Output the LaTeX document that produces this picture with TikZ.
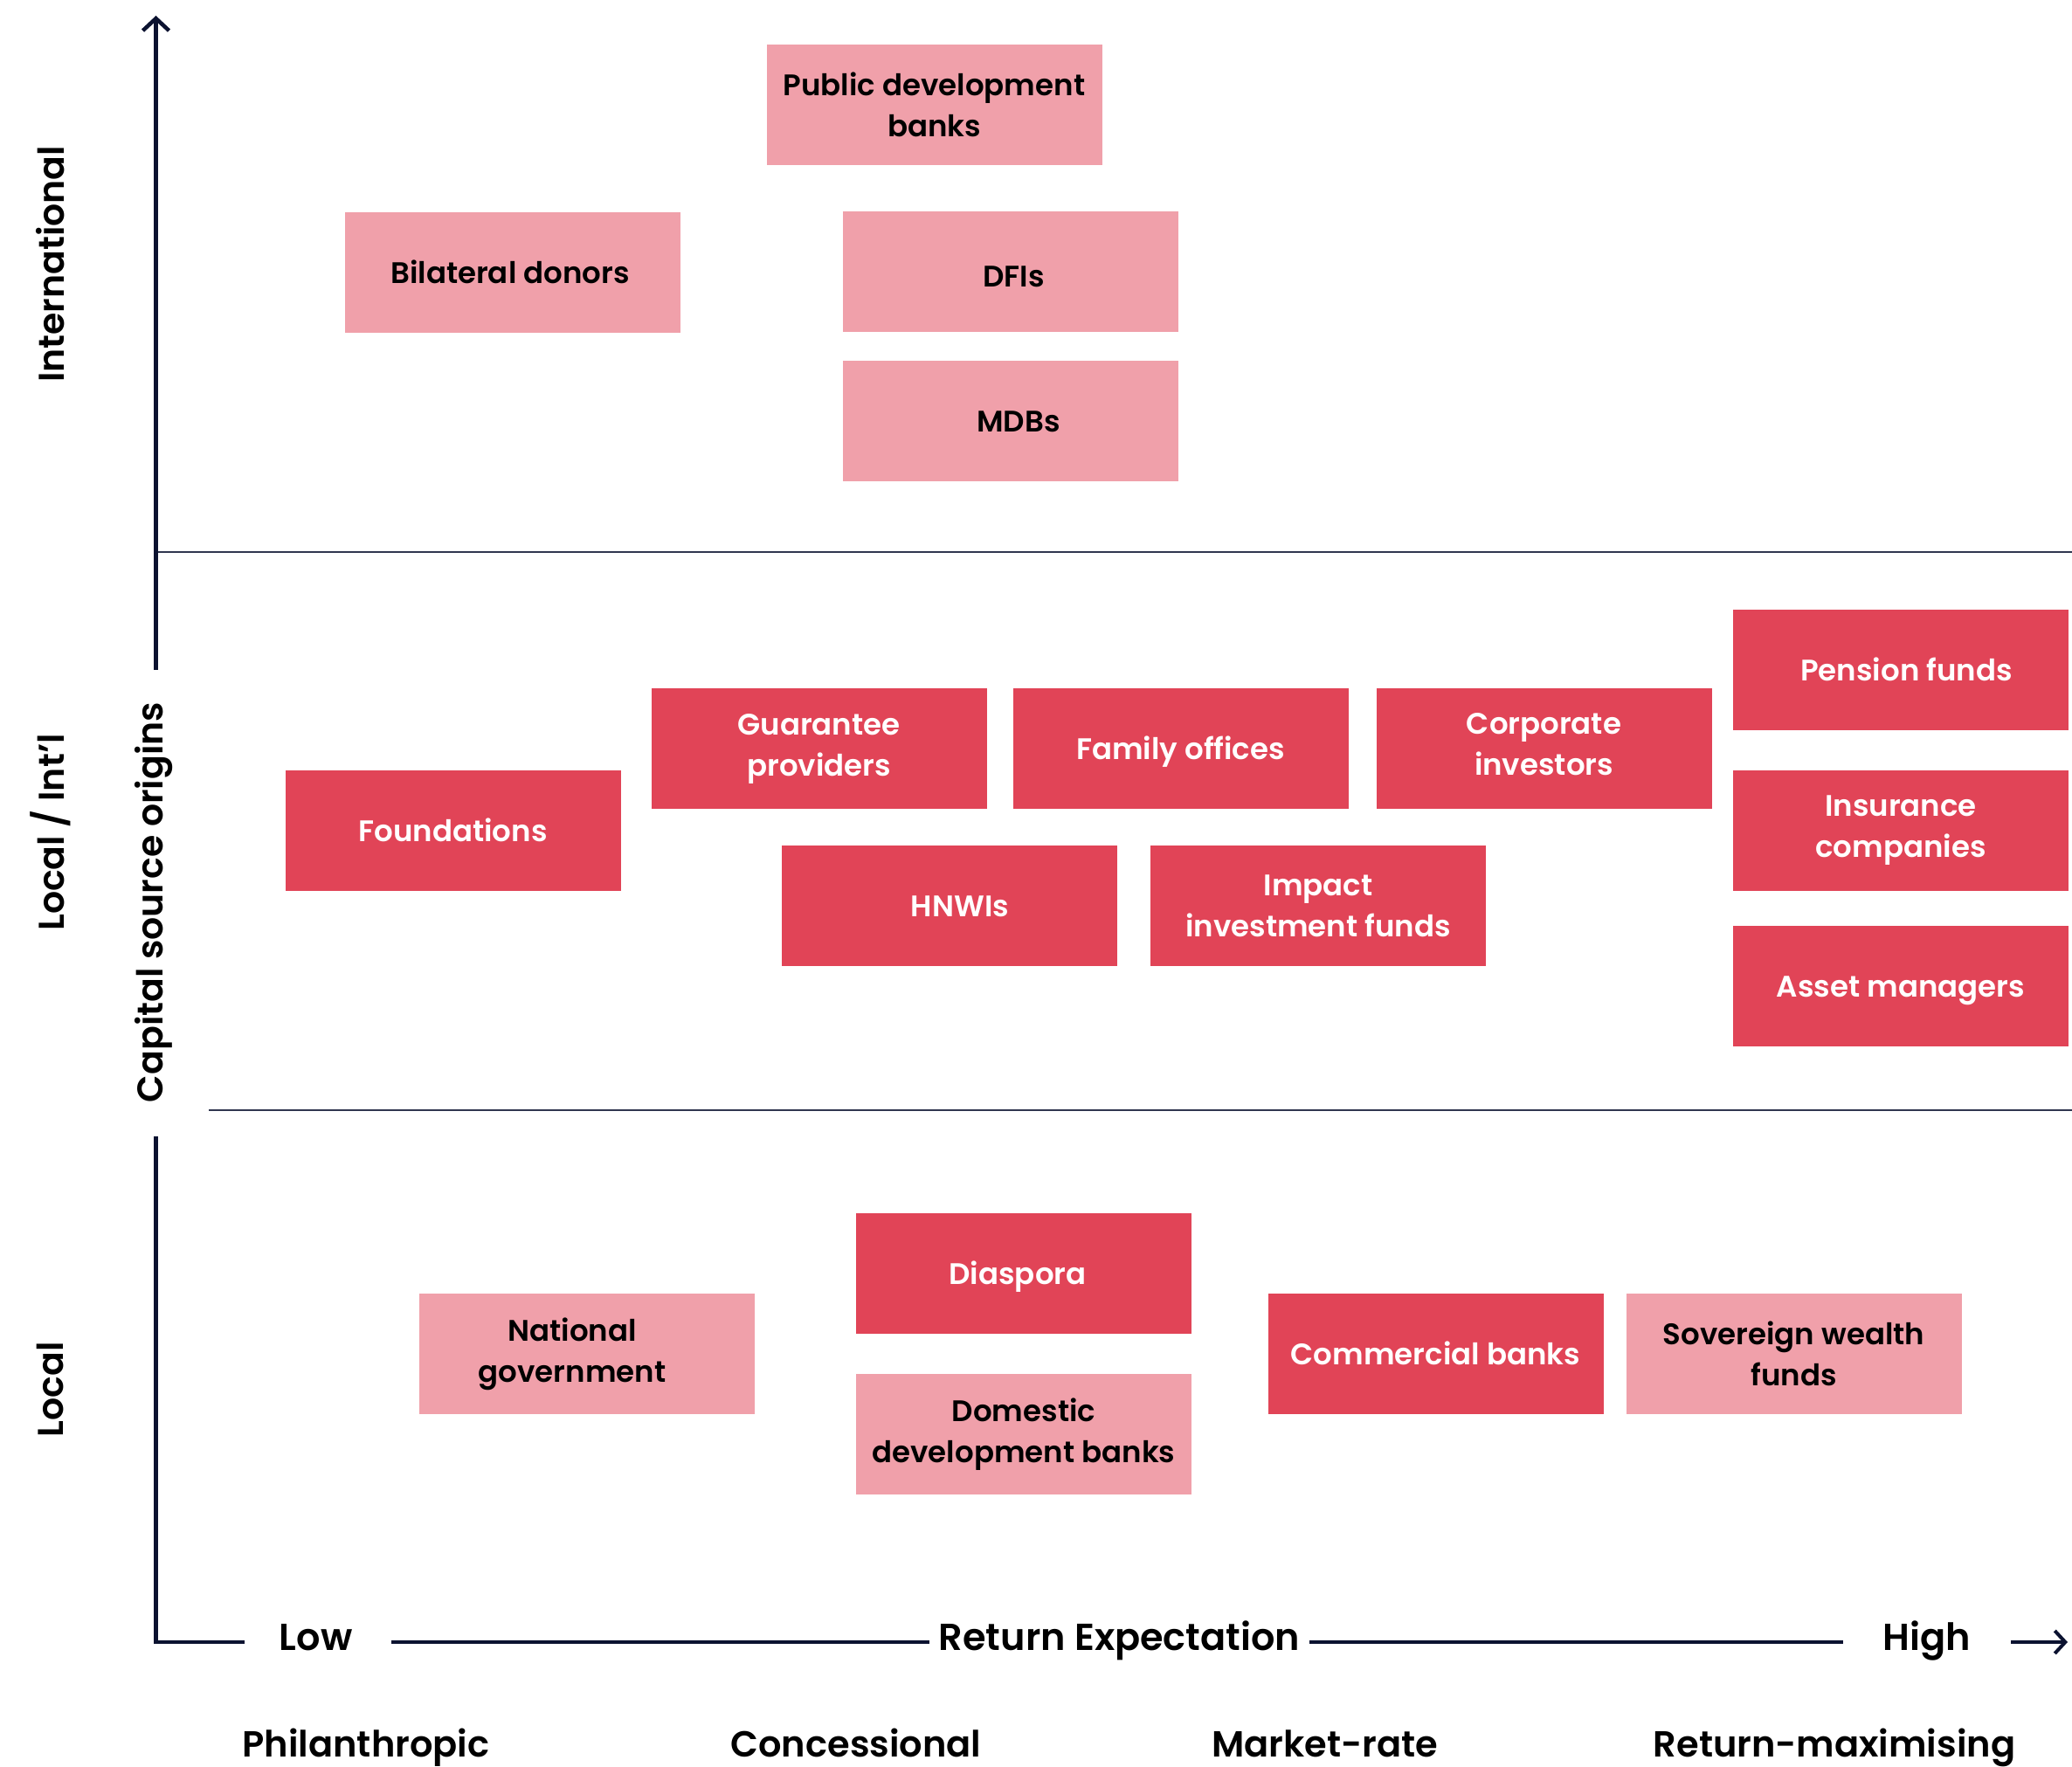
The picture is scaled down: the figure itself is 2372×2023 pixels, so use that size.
\documentclass[tikz,border=0pt]{standalone}
\usepackage{fontspec}
\setmainfont{Poppins}[UprightFont=* SemiBold]
\usetikzlibrary{arrows.meta}
\definecolor{axisnavy}{HTML}{0B1230}
\definecolor{softpink}{HTML}{F0A0AA}
\definecolor{deepred}{HTML}{E14457}
% invisible spacers used to offset a label inside its box
\newcommand\padx[1]{\rule{#1}{0pt}}
\newcommand\padbelow[1]{\rule[-#1]{0pt}{0pt}}
\begin{document}
\begin{tikzpicture}[x=1pt,y=-1pt,
  src/.style={minimum width=384pt,minimum height=138pt,inner sep=0pt,align=center,
    font=\fontsize{34}{47}\selectfont},
  oneline/.style={text height=24pt,text depth=0pt},
  intl/.style={src,fill=softpink,text=black},
  dom/.style={src,fill=deepred,text=white},
  axislbl/.style={font=\fontsize{43}{50}\selectfont,text=black,inner sep=0pt},
  catlbl/.style={font=\fontsize{41.5}{50}\selectfont,text=black,inner sep=0pt,anchor=base},
  bandlbl/.style={font=\fontsize{41}{50}\selectfont,text=black,inner sep=0pt,rotate=90},
  axisline/.style={draw=axisnavy,line width=4.5pt},
  divider/.style={draw=axisnavy!85,line width=2pt}]
\useasboundingbox (0,0) rectangle (2372,2023);

% quadrant dividers
\coordinate (d1a) at (178.5,632);
\coordinate (d1b) at (2372,632);
\coordinate (d2a) at (239,1271);
\coordinate (d2b) at (2372,1271);
\draw[divider] (d1a) -- (d1b);
\draw[divider] (d2a) -- (d2b);

% vertical axis, broken by its title
\coordinate (ytop) at (178.5,18);
\coordinate (ybreak1) at (178.5,767);
\coordinate (ybreak2) at (178.5,1301);
\coordinate (origin) at (178.5,1880);
\coordinate (xseg1) at (280,1880);
\node[bandlbl] (ytitle) at (176,1033) {Capital source origins};
\draw[axisline,-{Straight Barb[length=14pt,width=30pt,line width=4.5pt]}] (ybreak1) -- (ytop);
\draw[axisline] (ybreak2) -- (origin) -- (xseg1);

% horizontal axis with its inline labels
\node[axislbl,anchor=base] (low) at (361.6,1889) {Low};
\node[axislbl,anchor=base] (xtitle) at (1281.5,1889) {Return Expectation};
\node[axislbl,anchor=base] (high) at (2206,1889) {High};
\coordinate (x2a) at (448,1880);
\coordinate (x2b) at (1063.5,1880);
\coordinate (x3a) at (1499,1880);
\coordinate (x3b) at (2110,1880);
\coordinate (xarra) at (2302,1880);
\coordinate (xarrb) at (2367,1880);
\draw[axisline] (x2a) -- (x2b);
\draw[axisline] (x3a) -- (x3b);
\draw[axisline,-{Straight Barb[length=12pt,width=26pt,line width=4pt]}] (xarra) -- (xarrb);

% return categories
\node[catlbl] (phil) at (419,2011) {Philanthropic};
\node[catlbl] (conc) at (980,2011) {Concessional};
\node[catlbl] (mkt) at (1517,2011) {Market-rate};
\node[catlbl] (rmax) at (2100,2011) {Return-maximising};

% origin bands
\node[bandlbl] (bandI) at (57.5,302.5) {International};
\node[bandlbl] (bandLI) at (57.5,953) {Local / Int’l};
\node[bandlbl] (bandL) at (57.5,1591) {Local};

% international sources
\node[intl] (pdb) at (1069.5,120) {Public development\\banks};
\node[intl,oneline] (bilat) at (587,312) {Bilateral donors\padx{6pt}};
\node[intl,oneline,text height=34pt] (dfi) at (1157,311) {\padx{7pt}DFIs};
\node[intl,oneline] (mdb) at (1157,482) {\padx{18pt}MDBs};

% local / international sources
\node[dom,oneline] (pension) at (2176,767) {\padx{13pt}Pension funds};
\node[dom] (insur) at (2176,951) {Insurance\\companies};
\node[dom,oneline] (asset) at (2176,1129) {Asset managers};
\node[dom] (guar) at (937.5,857) {Guarantee\\providers};
\node[dom,oneline] (family) at (1351.5,857) {Family offices};
\node[dom] (corp) at (1767.5,857) {Corporate\\investors\padbelow{10pt}};
\node[dom,oneline] (found) at (518.5,951) {Foundations};
\node[dom,oneline] (hnwi) at (1087,1037) {\padx{24pt}HNWIs};
\node[dom] (impact) at (1509,1037) {Impact\\investment funds};

% local sources
\node[dom,oneline] (diaspora) at (1172,1458) {Diaspora\padx{14pt}};
\node[intl] (natgov) at (672,1550) {National\padx{34pt}\\government\padx{34pt}};
\node[intl] (ddb) at (1172,1642) {Domestic\\development banks};
\node[dom,oneline] (comm) at (1643.5,1550) {Commercial banks};
\node[intl] (swf) at (2053.5,1550) {Sovereign wealth\\funds};
\end{tikzpicture}
\end{document}
